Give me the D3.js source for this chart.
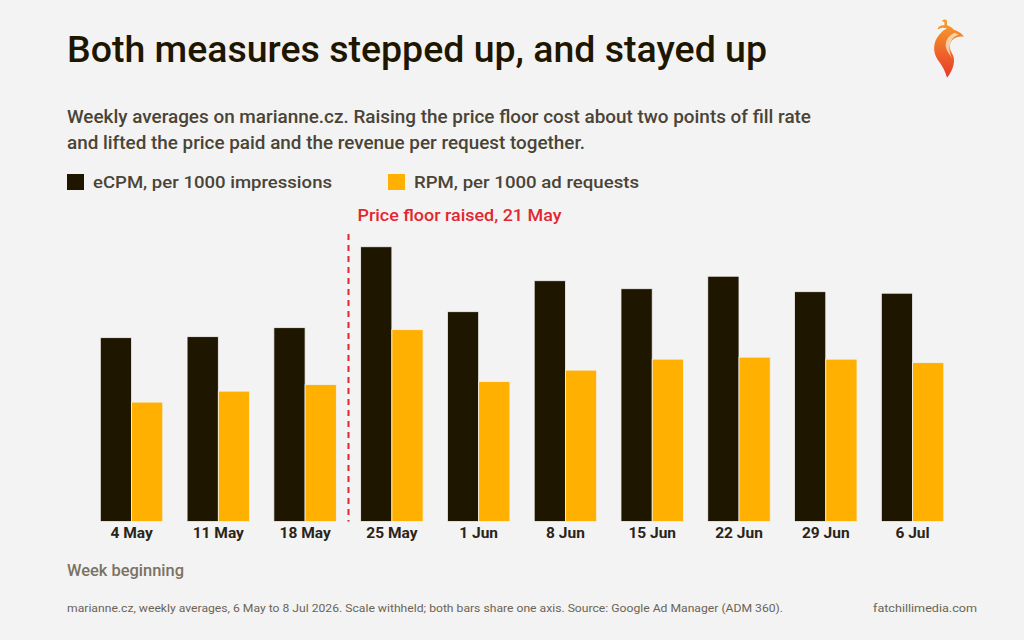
<!DOCTYPE html>
<html>
<head>
<meta charset="utf-8">
<script src="https://cdn.jsdelivr.net/npm/d3@7"></script>
<style>
  body { margin: 0; background: #f3f3f3; }
  svg { display: block; font-family: Roboto, "Noto Sans", sans-serif; }
</style>
</head>
<body>
<script>
const w = 1024;
const h = 640;

// weeks and the two series (scale withheld, relative units)
const weeks = ["4 May", "11 May", "18 May", "25 May", "1 Jun", "8 Jun", "15 Jun", "22 Jun", "29 Jun", "6 Jul"];
const ecpm = [1.84, 1.85, 1.94, 2.75, 2.10, 2.41, 2.33, 2.455, 2.30, 2.285];
const rpm  = [1.195, 1.305, 1.37, 1.92, 1.40, 1.515, 1.625, 1.645, 1.625, 1.59];
const seriesNames = ["eCPM, per 1000 impressions", "RPM, per 1000 ad requests"];
const colors = ["#1f1600", "#ffb000"];
const floorWeek = "25 May";

const svg = d3.select("body")
  .append("svg")
  .attr("width", w)
  .attr("height", h);

svg.append("rect").attr("width", w).attr("height", h).attr("fill", "#f3f3f3");

// title + subtitle (textLength keeps the wider original typeface's line widths)
svg.append("text")
  .attr("x", 67).attr("y", 62)
  .attr("font-size", 36).attr("font-weight", 500)
  .attr("fill", "#1f1600")
  .attr("textLength", 700).attr("lengthAdjust", "spacingAndGlyphs")
  .text("Both measures stepped up, and stayed up");

const sub = ["Weekly averages on marianne.cz. Raising the price floor cost about two points of fill rate",
             "and lifted the price paid and the revenue per request together."];
const subLen = [744, 518];
svg.selectAll(".sub").data(sub).enter().append("text")
  .attr("x", 67).attr("y", (d, i) => 123 + i * 26)
  .attr("font-size", 17.5).attr("font-weight", 500)
  .attr("fill", "#4a4436")
  .attr("textLength", (d, i) => subLen[i]).attr("lengthAdjust", "spacingAndGlyphs")
  .text(d => d);

// legend
const legX = [67, 388];
const legLen = [239, 225];
const leg = svg.selectAll(".leg").data(seriesNames).enter().append("g")
  .attr("transform", (d, i) => `translate(${legX[i]},174)`);
leg.append("rect").attr("width", 17).attr("height", 16).attr("fill", (d, i) => colors[i]);
leg.append("text").attr("x", 26).attr("y", 14)
  .attr("font-size", 17).attr("font-weight", 500).attr("fill", "#4a4436")
  .attr("textLength", (d, i) => legLen[i]).attr("lengthAdjust", "spacingAndGlyphs")
  .text(d => d);

// scales
const x = d3.scaleBand().domain(weeks).range([88.15, 955.95]).paddingInner(0.28).paddingOuter(0.14);
const x1 = d3.scaleBand().domain([0, 1]).range([0, x.bandwidth()]);
const y = d3.scaleLinear().domain([0, 2.75]).range([521.5, 246.75]);

const groups = svg.selectAll(".grp").data(weeks).enter().append("g")
  .attr("transform", d => `translate(${x(d)},0)`);

groups.selectAll("rect")
  .data((d, i) => [ecpm[i], rpm[i]])
  .enter()
  .append("rect")
  .attr("x", (d, i) => x1(i))
  .attr("y", d => y(d))
  .attr("width", x1.bandwidth())
  .attr("height", d => y(0) - y(d))
  .attr("fill", (d, i) => colors[i])
  .attr("stroke", "#f3f3f3")
  .attr("stroke-width", 0.8);

// x axis labels
const xAxis = d3.axisBottom(x).tickSize(0).tickPadding(5);
const ax = svg.append("g").attr("transform", `translate(0,${y(0)})`).call(xAxis);
ax.select(".domain").remove();
ax.selectAll("text")
  .attr("font-family", "Roboto, sans-serif")
  .attr("font-size", 15.5).attr("font-weight", 700).attr("fill", "#2a2418");

// price floor marker
const fx = x(floorWeek) - x.step() * x.paddingInner() / 2;
svg.append("line")
  .attr("x1", fx).attr("x2", fx)
  .attr("y1", 234).attr("y2", y(0))
  .attr("stroke", "#e3262f").attr("stroke-width", 2)
  .attr("stroke-dasharray", "6,5");
svg.append("text")
  .attr("x", fx + 9).attr("y", 221)
  .attr("font-size", 16.5).attr("font-weight", 500).attr("fill", "#e3262f")
  .attr("textLength", 204).attr("lengthAdjust", "spacingAndGlyphs")
  .text("Price floor raised, 21 May");

// axis title
svg.append("text")
  .attr("x", 67).attr("y", 576)
  .attr("font-size", 16).attr("font-weight", 500).attr("fill", "#7a7264")
  .attr("textLength", 117).attr("lengthAdjust", "spacingAndGlyphs")
  .text("Week beginning");

// footer
svg.append("text")
  .attr("x", 67).attr("y", 612)
  .attr("font-size", 11).attr("fill", "#6b6456")
  .attr("textLength", 716).attr("lengthAdjust", "spacingAndGlyphs")
  .text("marianne.cz, weekly averages, 6 May to 8 Jul 2026. Scale withheld; both bars share one axis. Source: Google Ad Manager (ADM 360).");
svg.append("text")
  .attr("x", 873).attr("y", 612)
  .attr("font-size", 11).attr("fill", "#6b6456")
  .attr("textLength", 104).attr("lengthAdjust", "spacingAndGlyphs")
  .text("fatchillimedia.com");

// chilli logo
const defs = svg.append("defs");
const grad = defs.append("linearGradient").attr("id", "chilli")
  .attr("x1", 0).attr("y1", 0).attr("x2", 0).attr("y2", 1);
grad.append("stop").attr("offset", "0%").attr("stop-color", "#f7a12b");
grad.append("stop").attr("offset", "100%").attr("stop-color", "#e8382a");
const logo = svg.append("g").attr("transform", "translate(934,19) scale(1.3,1.05)");
logo.append("path")
  .attr("d", "M6,2 C7,0 10,0 10,2 L10,6 C12,7 14,8 15,10 C19,12 22,14 23,17 C20,16 17,17 15,19 C12,22 11,27 14,33 C17,39 15,48 10,56 C9,50 6,44 3,39 C-1,32 -1,22 4,15 C6,12 8,10 10,9 C8,8 5,8 3,10 C3,7 5,6 8,6 L8,3 Z")
  .attr("fill", "url(#chilli)");
logo.append("path")
  .attr("d", "M16,13 C12,15 9,19 9,25 C9,30 12,33 14,38 C12,32 11,27 13,22 C14,18 16,16 19,15 Z")
  .attr("fill", "#fbe3c4").attr("opacity", 0.8);
</script>
</body>
</html>
